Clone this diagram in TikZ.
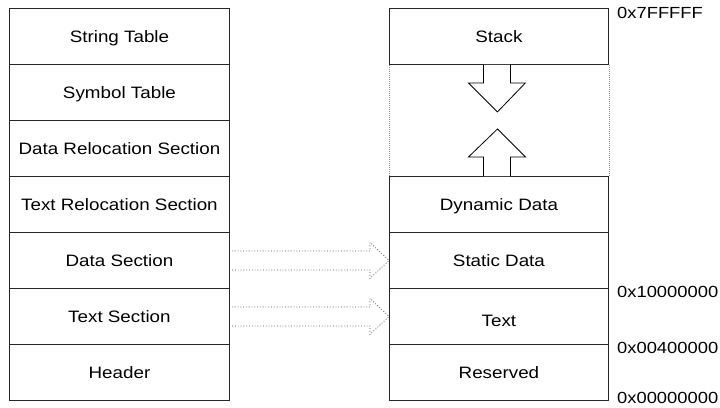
\documentclass[tikz,border=0pt]{standalone}
\usepackage{fontspec}
\setmainfont{Liberation Sans}[FakeStretch=1.14]
\usetikzlibrary{calc}
\begin{document}
\begin{tikzpicture}[x=1pt,y=-1pt,
  lbl/.style={font=\fontsize{16.5}{19}\selectfont, inner sep=0pt, text height=11.8pt, text depth=0pt},
  row/.style={lbl, draw=black!85, line width=0.9pt, minimum width=220pt, minimum height=56pt,
    anchor=north west},
  rrow/.style={row, minimum width=219pt},
  addr/.style={lbl, font=\fontsize{16.1}{19}\selectfont, text height=11.5pt, anchor=west},
  dotarr/.style={draw=black!70, line width=0.8pt, dash pattern=on 0.8pt off 2pt},
  gapside/.style={draw=black!45, line width=0.8pt, dash pattern=on 0.8pt off 1.2pt},
  blockarr/.style={draw=black, line width=0.8pt, fill=white}
]
\useasboundingbox (0,0) rectangle (720,407);
\fill[white] (0,0) rectangle (720,407);

% object file layout
\node[row] (strt) at (9,8) {String Table};
\node[row] (symt) at (9,64) {Symbol Table};
\node[row] (drel) at (9,120) {Data Relocation Section};
\node[row] (trel) at (9,176) {Text Relocation Section};
\node[row] (dsec) at (9,232) {Data Section};
\node[row] (tsec) at (9,288) {Text Section};
\node[row] (hdr)  at (9,344) {Header};

% memory layout
\node[rrow] (stack) at (389,8) {Stack};
\node[rrow] (dyn)   at (389,176) {Dynamic Data};
\node[rrow] (sdata) at (389,232) {Static Data};
\node[rrow, text height=19.5pt] (text)  at (389,288) {Text};
\node[rrow] (resv)  at (389,344) {Reserved};

% free region sides
\draw[gapside] (stack.south west) -- (dyn.north west);
\draw[gapside] (stack.south east) -- (dyn.north east);

% stack grows down
\draw[blockarr] ([shift={(-15.5,0)}]stack.south) -- ([shift={(-15.5,18)}]stack.south)
  -- ([shift={(-30.5,18)}]stack.south) -- ([shift={(-1.5,47)}]stack.south)
  -- ([shift={(26.5,18)}]stack.south) -- ([shift={(11.5,18)}]stack.south)
  -- ([shift={(11.5,0)}]stack.south);
% heap grows up
\draw[blockarr] ([shift={(-15.5,0)}]dyn.north) -- ([shift={(-15.5,-19)}]dyn.north)
  -- ([shift={(-30.5,-19)}]dyn.north) -- ([shift={(-1.5,-47)}]dyn.north)
  -- ([shift={(26.5,-19)}]dyn.north) -- ([shift={(11.5,-19)}]dyn.north)
  -- ([shift={(11.5,0)}]dyn.north);

% loading arrows
\draw[dotarr] ([shift={(2,-9.5)}]dsec.east) -- ([shift={(-19,-9.5)}]sdata.west)
  -- ([shift={(-19,-18)}]sdata.west) -- (sdata.west)
  -- ([shift={(-19,18)}]sdata.west) -- ([shift={(-19,9.5)}]sdata.west)
  -- ([shift={(2,9.5)}]dsec.east);
\draw[dotarr] ([shift={(2,-9.5)}]tsec.east) -- ([shift={(-19,-9.5)}]text.west)
  -- ([shift={(-19,-18)}]text.west) -- (text.west)
  -- ([shift={(-19,18)}]text.west) -- ([shift={(-19,9.5)}]text.west)
  -- ([shift={(2,9.5)}]tsec.east);

% addresses
\node[addr] (a1) at (617,13) {0x7FFFFF};
\node[addr] (a2) at (617,292) {0x10000000};
\node[addr] (a3) at (617,348) {0x00400000};
\node[addr] (a4) at (617,398) {0x00000000};
\end{tikzpicture}
\end{document}
